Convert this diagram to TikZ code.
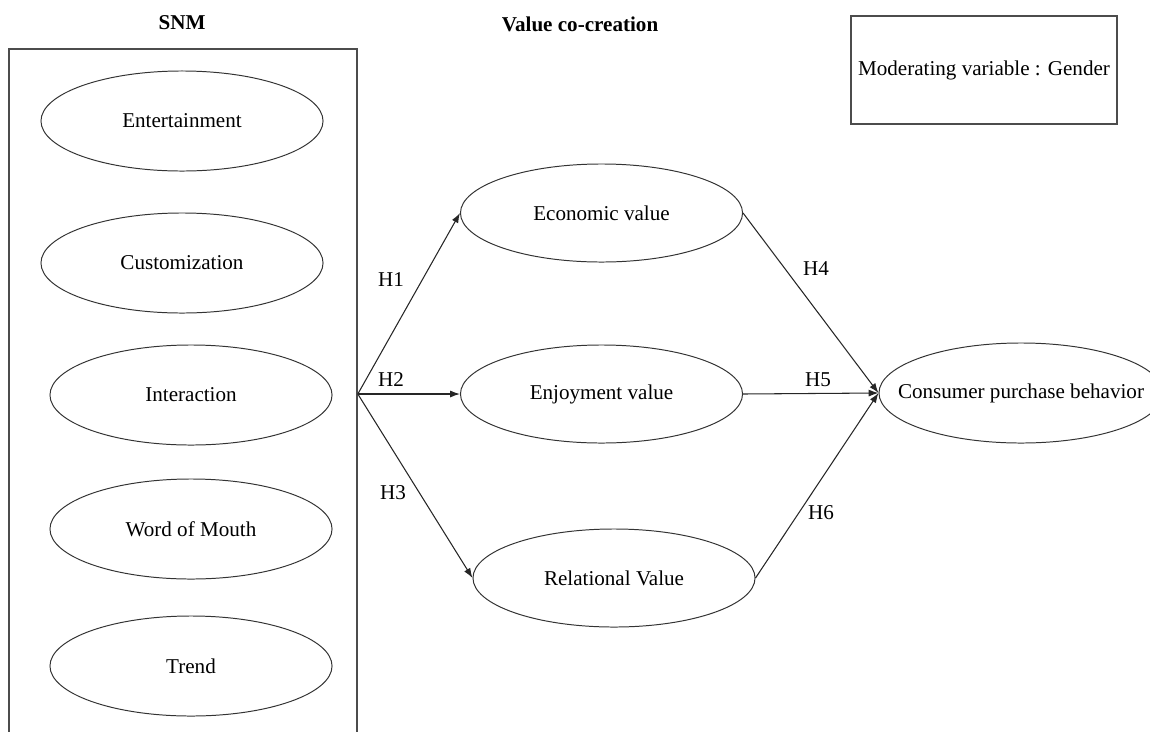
\documentclass[tikz,border=0pt]{standalone}
\usepackage{fontspec}
\setmainfont{Liberation Serif}
\usetikzlibrary{shapes.geometric, arrows.meta, positioning, calc}

\begin{document}
\begin{tikzpicture}[
    x=0.025cm, y=-0.025cm,
    font=\fontsize{15}{18}\selectfont,
    construct/.style={
        ellipse, draw=black!80, line width=0.7pt,
        minimum width=7.05cm, minimum height=2.5cm, inner sep=0pt, align=center
    },
    group/.style={
        rectangle, draw=black!70, line width=1.1pt,
        inner sep=0pt
    },
    heading/.style={font=\fontsize{15}{18}\selectfont\bfseries},
    hyp/.style={inner sep=1pt},
    link/.style={draw=black!85, line width=0.75pt, -{Latex[length=7pt,width=5pt]}}
]
\clip (0,0) rectangle (1150,731);

% 1. LEFT: SNM dimensions
\node[heading] (SNMTitle) at (182,23) {SNM};
\node[group, minimum width=8.7cm, minimum height=17.775cm] (SNMBox) at (183,404.5) {};

\node[construct] (Ent) at (182,121) {Entertainment};
\node[construct] (Cust) at (182,263) {Customization};
\node[construct] (Inter) at (191,395) {Interaction};
\node[construct] (WoM) at (191,529) {Word of Mouth};
\node[construct] (Trend) at (191,666) {Trend};

\coordinate (Src) at (SNMBox.east |- 0,394);

% 2. CENTER: value co-creation
\node[heading] (VCCTitle) at (580,24) {Value co-creation};

\node[construct, minimum height=2.45cm] (Econ) at (601.5,213) {Economic value};
\node[construct, minimum height=2.45cm] (Enjoy) at (601.5,394) {Enjoyment value};
\node[construct, minimum height=2.45cm] (Rel) at (614,578) {Relational Value};

\draw[link] (Src) -- (Econ.west);
\draw[link] (Src) -- (Enjoy.west);
\draw[link] (Src) -- (Rel.west);

\node[hyp] (H1) at (391,280) {H1};
\node[hyp] (H2) at (391,380) {H2};
\node[hyp] (H3) at (393,493) {H3};

% 3. RIGHT: outcome and moderator
\node[construct, minimum width=7.1cm, label=center:{Consumer purchase behavior}] (CPB) at (1021,393) {};

\draw[link] (Econ.east) -- (CPB.west);
\draw[link] (Enjoy.east) -- (CPB.west);
\draw[link] (Rel.east) -- (CPB.west);

\node[hyp] (H4) at (816,269) {H4};
\node[hyp] (H5) at (818,380) {H5};
\node[hyp] (H6) at (821,513) {H6};

\node[group, line width=0.9pt, minimum width=6.65cm, minimum height=2.7cm] (Mod) at (984,70) {Moderating variable : Gender};

\end{tikzpicture}
\end{document}
